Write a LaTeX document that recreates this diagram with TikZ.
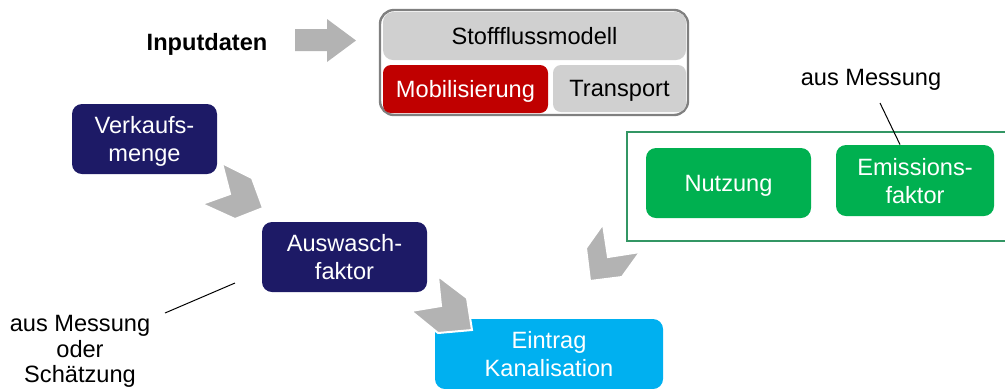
\documentclass[tikz,border=0pt]{standalone}
\usepackage{fontspec}
\setmainfont{Liberation Sans}
\definecolor{navy}{RGB}{29,26,102}
\definecolor{modred}{RGB}{192,0,0}
\definecolor{modgray}{RGB}{208,208,208}
\definecolor{rimgray}{RGB}{128,128,128}
\definecolor{chevgray}{RGB}{179,179,179}
\definecolor{usegreen}{RGB}{0,176,80}
\definecolor{framegreen}{RGB}{51,150,100}
\definecolor{canalblue}{RGB}{0,176,240}
\tikzset{
  box/.style={rounded corners=5pt, inner sep=0pt, text=white, align=center,
    text depth=0pt, font=\fontsize{11.8}{14}\selectfont},
  note/.style={inner sep=0pt, align=center, text depth=0pt,
    font=\fontsize{11.8}{12.8}\selectfont},
  chev/.style={fill=chevgray, draw=white, line width=1pt},
}
\begin{document}
\begin{tikzpicture}[x=0.5pt,y=-0.5pt]
\useasboundingbox (0,0) rectangle (1005,388);
% Stoffflussmodell
\node[draw=rimgray, fill=white, line width=1.2pt, rounded corners=7pt,
  minimum width=154pt, minimum height=52.5pt] (stoff) at (534,62.5) {};
\node[box, fill=modgray, text=black, minimum width=151.5pt, minimum height=24pt] (stoffhead) at (534.5,36) {Stoffflussmodell};
\node[box, fill=modred, rounded corners=4pt, minimum width=82.5pt, minimum height=24pt] (mob) at (465.5,89) {Mobilisierung};
\node[box, fill=modgray, text=black, rounded corners=4pt, minimum width=66.5pt, minimum height=23.5pt] (trans) at (619.5,88.5) {Transport};
\node[note, font=\fontsize{11.8}{14}\bfseries] (input) at (207,41.5) {Inputdaten};
\fill[chevgray] (295,29) -- (327,29) -- (327,19) -- (356,40.5) -- (327,62) -- (327,51) -- (295,51) -- cycle;
% Kette links
\node[box, fill=navy, minimum width=72.5pt, minimum height=35pt] (verk) at (144.5,139) {Verkaufs-\\menge};
\node[box, fill=navy, minimum width=82.5pt, minimum height=35pt] (ausw) at (344.5,257) {Auswasch-\\faktor};
\node[box, fill=canalblue, minimum width=114pt, minimum height=35pt] (eintr) at (549,354) {Eintrag\\Kanalisation};
\draw[chev] (222,163) -- (252,178) -- (263,208) -- (235,219) -- (202,204) -- (230,194) -- cycle;
\draw[chev] (438,276) -- (467,298) -- (472,330) -- (438,333) -- (411,311) -- (441,306) -- cycle;
% Nutzung rechts
\draw[framegreen, line width=1pt] (1006,132) -- (627,132) -- (627,241) -- (1006,241);
\node[box, fill=usegreen, minimum width=82.5pt, minimum height=35pt] (nutz) at (728.5,183) {Nutzung};
\node[box, fill=usegreen, minimum width=79pt, minimum height=35.5pt] (emis) at (915,180.5) {Emissions-\\faktor};
\draw[chev] (603,224) -- (608,257) -- (640,252) -- (622,277) -- (590,281) -- (586,248) -- cycle;
% Hinweise
\node[note] (messtop) at (871,77.5) {aus Messung};
\coordinate (mt) at (880,103);
\draw[line width=0.5pt] (mt) -- ([xshift=-7.5pt]emis.north);
\node[note] (messbot) at (80,349) {aus Messung\\oder\\Schätzung};
\coordinate (mb1) at (165,313);
\coordinate (mb2) at (235,283);
\draw[line width=0.5pt] (mb1) -- (mb2);
\end{tikzpicture}
\end{document}
